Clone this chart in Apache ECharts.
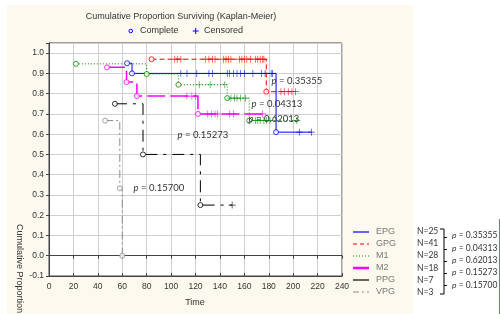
<!DOCTYPE html>
<html>
<head>
<meta charset="utf-8">
<script src="https://cdn.jsdelivr.net/npm/echarts@6/dist/echarts.min.js"></script>
<style>
html, body { margin: 0; padding: 0; background: #fff; }
#chartContainer { width: 500px; height: 314px; }
</style>
</head>
<body>
<div id="chartContainer"></div>
<script>
// groups, sample sizes and p values
var groups = ['EPG', 'GPG', 'M1', 'M2', 'PPG', 'VPG'];
var groupN = [25, 41, 28, 18, 7, 3];
var pValues = ['0.35355', '0.04313', '0.62013', '0.15273', '0.15700'];

// complete (event) times and survival after each step
var epgTime = [64, 68, 186];
var epgSurv = [0.95, 0.90, 0.61];
var epgCensored = [108, 113, 121, 131, 134, 146, 148, 151, 154, 157, 160, 167, 174, 177, 182, 183, 205, 215];

var gpgTime = [84, 178];
var gpgSurv = [0.97, 0.81];
var gpgCensored = [103, 105, 108, 128, 131, 134, 136, 143, 145, 147, 149, 156, 158, 160, 162, 165, 169, 171, 173, 175, 176, 190, 193, 196, 199, 202];

var m1Time = [22, 80, 106, 146, 164];
var m1Surv = [0.947, 0.897, 0.844, 0.778, 0.667];
var m1Censored = [123, 132, 144, 149, 152, 154, 157, 161, 169, 171, 173, 176, 178, 181, 203];

var m2Time = [47.5, 63.5, 72, 122];
var m2Surv = [0.93, 0.857, 0.788, 0.70];
var m2Censored = [113, 117, 120, 130, 133, 136, 138, 148, 151, 175];

var ppgTime = [54, 77, 124];
var ppgSurv = [0.75, 0.50, 0.25];
var ppgCensored = [150];

var vpgTime = [46, 58, 60];
var vpgSurv = [0.667, 0.333, 0.0];
var vpgCensored = [];

var allTimes = [epgTime, gpgTime, m1Time, m2Time, ppgTime, vpgTime];
var allSurv = [epgSurv, gpgSurv, m1Surv, m2Surv, ppgSurv, vpgSurv];
var allCensored = [epgCensored, gpgCensored, m1Censored, m2Censored, ppgCensored, vpgCensored];

var colors = ['#0000ff', '#ff0000', '#009000', '#ff00ff', '#000000', '#8c8c8c'];
var dashes = ['solid', [5, 3], [1, 2], [18, 5], [12, 6, 3, 6], [8, 3, 2, 3]];
var widths = [1, 1, 1, 1.5, 1, 1];

var font = '"Liberation Sans", Arial, sans-serif';
var plusPath = 'path://M4.5,0h1v10h-1z M0,4.5h10v1h-10z';

function survAt(times, surv, t) {
    var s = 1;
    for (var i = 0; i < times.length; i++) {
        if (times[i] <= t) s = surv[i];
    }
    return s;
}

var series = [];
groups.forEach(function (g, k) {
    var times = allTimes[k], surv = allSurv[k], cens = allCensored[k];
    var line = times.map(function (t, i) { return [t, surv[i]]; });
    var lastCens = cens.length ? cens[cens.length - 1] : 0;
    if (lastCens > times[times.length - 1]) line.push([lastCens, surv[surv.length - 1]]);
    series.push({
        name: g, type: 'line', step: 'end', data: line, showSymbol: false,
        lineStyle: {color: colors[k], width: widths[k], type: dashes[k]},
        animation: false, z: 3
    });
    series.push({
        name: g + ' complete', type: 'scatter', symbol: 'circle', symbolSize: 5,
        data: line.slice(0, times.length),
        itemStyle: {color: '#ffffff', borderColor: colors[k], borderWidth: 1},
        animation: false, z: 4
    });
    series.push({
        name: g + ' censored', type: 'scatter', symbol: plusPath, symbolSize: 7,
        data: cens.map(function (t) { return [t, survAt(times, surv, t)]; }),
        itemStyle: {color: colors[k]},
        animation: false, z: 4
    });
});

function txt(x, y, text, opt) {
    opt = opt || {};
    return {
        type: 'text', z: 10,
        style: {
            x: x, y: y, text: text,
            font: opt.font || ('9px ' + font),
            fill: opt.fill || '#333',
            align: opt.align || 'left',
            verticalAlign: 'middle',
            rich: opt.rich
        }
    };
}
function seg(x1, y1, x2, y2, color, width, dash) {
    return {
        type: 'line', z: 10,
        shape: {x1: x1, y1: y1, x2: x2, y2: y2},
        style: {stroke: color, lineWidth: width || 1, lineDash: dash || null}
    };
}

var pFont = '8.5px Lato, "Noto Sans", sans-serif';
var pRich = {i: {font: 'italic 8.5px Lato, "Noto Sans", sans-serif', fill: '#333'}};
var pFontIn = '9.5px Lato, "Noto Sans", sans-serif';
var pRichIn = {i: {font: 'italic 9.5px Lato, "Noto Sans", sans-serif', fill: '#333'}};

var graphics = [
    {type: 'rect', z: -100, zlevel: -1, shape: {x: 7, y: 5, width: 406, height: 309}, style: {fill: '#fdf9ee'}},
    txt(181, 17, 'Cumulative Proportion Surviving (Kaplan-Meier)', {align: 'center'}),
    {type: 'circle', z: 10, shape: {cx: 130.7, cy: 31, r: 1.8}, style: {stroke: '#0000ff', fill: 'none', lineWidth: 1}},
    txt(140, 31, 'Complete'),
    seg(192.7, 31, 198.7, 31, '#0000ff'),
    seg(195.7, 28, 195.7, 34, '#0000ff'),
    txt(204, 31, 'Censored'),
    {
        type: 'text', z: 10, rotation: -Math.PI / 2, x: 19, y: 224,
        style: {x: 0, y: 0, text: 'Cumulative Proportion Surviving', font: '9px ' + font, fill: '#333', align: 'left', verticalAlign: 'middle'}
    },
    txt(195, 303, 'Time', {align: 'center'}),
    // in-plot p values
    txt(271.5, 81, '{i|p} = 0.35355', {font: pFontIn, rich: pRichIn}),
    txt(251.5, 103.5, '{i|p} = 0.04313', {font: pFontIn, rich: pRichIn}),
    txt(248.5, 119, '{i|p} = 0.62013', {font: pFontIn, rich: pRichIn}),
    txt(177.5, 134.5, '{i|p} = 0.15273', {font: pFontIn, rich: pRichIn}),
    txt(133.5, 187.5, '{i|p} = 0.15700', {font: pFontIn, rich: pRichIn}),
    // bracket
    seg(444, 229, 444, 294, '#000'),
    seg(440, 229, 444, 229, '#000'),
    seg(440, 294, 444, 294, '#000'),
    seg(499.5, 219, 499.5, 314, '#5a7ec8')
];

groups.forEach(function (g, i) {
    var y = 232 + i * 12;
    graphics.push(seg(353, y, 369, y, colors[i], i === 3 ? 2.5 : 1.2, dashes[i] === 'solid' ? null : (i === 2 ? [1, 2] : (i === 1 ? [4, 3] : (i === 5 ? [6, 3, 2, 3] : null)))));
    graphics.push(txt(376, y, g, {fill: '#777'}));
    graphics.push(txt(417, 231 + i * 12.3, 'N=' + groupN[i], {font: '8.5px Lato, "Noto Sans", sans-serif'}));
});
pValues.forEach(function (p, i) {
    graphics.push(seg(444, 237.5 + i * 12, 447, 237.5 + i * 12, '#000'));
    graphics.push(txt(452, 235.5 + i * 12.4, '{i|p} = ' + p, {font: pFont, rich: pRich}));
});

var axisLabelStyle = {color: '#333', fontSize: 8.5, fontFamily: font};

var chart = echarts.init(document.getElementById('chartContainer'));
chart.setOption({
    backgroundColor: '#ffffff',
    animation: false,
    grid: {left: 49, top: 43, right: 158, bottom: 38, show: true, backgroundColor: '#ffffff', borderColor: '#444', borderWidth: 1},
    xAxis: [{
        type: 'value', min: 0, max: 240, interval: 20,
        axisLine: {show: true, onZero: false, lineStyle: {color: '#444'}},
        axisTick: {show: true, inside: true, length: 3, lineStyle: {color: '#444'}},
        axisLabel: Object.assign({margin: 6}, axisLabelStyle),
        splitLine: {show: true, lineStyle: {color: '#cfcfcf', width: 1}}
    }, {
        type: 'value', position: 'top', min: 0, max: 240, interval: 20,
        axisLine: {show: true, lineStyle: {color: '#444'}},
        axisTick: {show: true, inside: true, length: 3, lineStyle: {color: '#444'}},
        axisLabel: {show: false}, splitLine: {show: false}
    }],
    yAxis: [{
        type: 'value', min: -0.1, max: 1.05, interval: 0.1,
        axisLine: {show: true, onZero: false, lineStyle: {color: '#444'}},
        axisTick: {show: true, length: 3, lineStyle: {color: '#444'}},
        axisLabel: Object.assign({
            margin: 5, showMaxLabel: false,
            formatter: function (v) { return v.toFixed(1); }
        }, axisLabelStyle),
        splitLine: {show: true, lineStyle: {color: '#cfcfcf', width: 1}}
    }, {
        type: 'value', position: 'right', min: -0.1, max: 1.05, interval: 0.1,
        axisLine: {show: true, lineStyle: {color: '#444'}},
        axisTick: {show: true, inside: true, length: 3, lineStyle: {color: '#444'}},
        axisLabel: {show: false}, splitLine: {show: false}
    }],
    series: series,
    graphic: graphics
});
</script>
</body>
</html>
